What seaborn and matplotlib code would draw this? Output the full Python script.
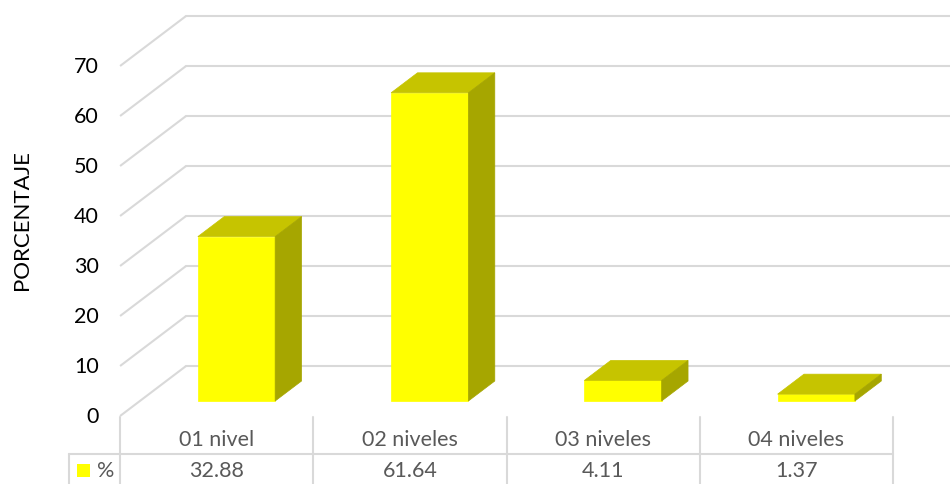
import matplotlib
matplotlib.use("Agg")
import matplotlib.pyplot as plt
import seaborn as sns
import pandas as pd
from matplotlib.patches import Polygon

categories = ["01 nivel", "02 niveles", "03 niveles", "04 niveles"]
values = [32.88, 61.64, 4.11, 1.37]
y_ticks = [0, 10, 20, 30, 40, 50, 60, 70]
series_name = "%"
y_label = "PORCENTAJE"

sns.set_theme(style="white")
plt.rcParams["font.family"] = ["Lato", "DejaVu Sans"]

FRONT = "#FFFF00"
TOP = "#C6C400"
SIDE = "#A6A600"
GRID = "#D9D9D9"
TXT = "#595959"

fig = plt.figure(figsize=(9.5, 4.85), dpi=100)
ax = fig.add_axes([0, 0, 1, 1])

df = pd.DataFrame({"cat": categories, "val": values})
sns.barplot(data=df, x="cat", y="val", order=categories, color=FRONT,
            width=0.4, saturation=1, ax=ax, zorder=3, edgecolor=FRONT, linewidth=0.5)

# geometry (bar-front plane coordinates)
PX = 193.25  # pixels per category
x0_pix = 236.5
ax.set_xlim((0 - x0_pix) / PX, (950 - x0_pix) / PX)
ax.set_ylim(-(485 - 402) / 5.0, 402 / 5.0)

dep_x = 66 / PX     # full wall depth in category units
dep_y = 10.0        # full wall depth in value units
fx, fy = -0.3 * dep_x, -0.3 * dep_y   # wall front relative to bar front
left = -0.5 + fx                        # front-left column edge
bx, by = 0.4 * dep_x, 0.4 * dep_y     # bar depth

# gridlines: diagonal + back wall
for v in y_ticks:
    ax.plot([left, left + dep_x], [v + fy, v + fy + dep_y], color=GRID, lw=1.5, zorder=1,
            solid_capstyle="butt")
    ax.plot([left + dep_x, 10], [v + fy + dep_y, v + fy + dep_y], color=GRID, lw=1.5, zorder=1)
    ax.text(left - 0.11, v + fy, str(v), ha="right", va="center", fontsize=15.5, color="#000000")

# 3D sides & tops
for i, v in enumerate(values):
    l, r = i - 0.2, i + 0.2
    ax.add_patch(Polygon([(l, v), (r, v), (r + bx, v + by), (l + bx, v + by)],
                         closed=True, facecolor=TOP, edgecolor=TOP, lw=0.5, zorder=4))
    ax.add_patch(Polygon([(r, 0), (r, v), (r + bx, v + by), (r + bx, by)],
                         closed=True, facecolor=SIDE, edgecolor=SIDE, lw=0.5, zorder=4))

# data table
y_top = (417 - 402) / -5.0 - 0.2
y_mid = -(455 - 402) / 5.0
y_bot = -20
for k in range(len(categories) + 1):
    xx = left + k
    ax.plot([xx, xx], [y_top, y_bot], color=GRID, lw=1.5, zorder=1)
leg_left = (69 - x0_pix) / PX
ax.plot([leg_left, left + len(categories)], [y_mid, y_mid], color=GRID, lw=1.5, zorder=1)
ax.plot([leg_left, leg_left], [y_mid, y_bot], color=GRID, lw=1.5, zorder=1)

for k, (c, v) in enumerate(zip(categories, values)):
    cx = left + k + 0.5
    ax.text(cx, -(440 - 402) / 5.0, c, ha="center", va="center", fontsize=15.5, color=TXT)
    ax.text(cx, -(471 - 402) / 5.0, f"{v:.2f}", ha="center", va="center", fontsize=15.5, color=TXT)

sq_l = (77 - x0_pix) / PX
sq_r = (90 - x0_pix) / PX
ax.add_patch(Polygon([(sq_l, -(478 - 402) / 5.0), (sq_r, -(478 - 402) / 5.0),
                      (sq_r, -(465 - 402) / 5.0), (sq_l, -(465 - 402) / 5.0)],
                     closed=True, facecolor=FRONT, edgecolor="none", zorder=3))
ax.text((97 - x0_pix) / PX, -(471 - 402) / 5.0, series_name, ha="left", va="center",
        fontsize=15.5, color=TXT)

# y label
ax.text((22 - x0_pix) / PX, (402 - 220) / 5.0, y_label, rotation=90, ha="center", va="center",
        fontsize=16, color="#000000")

ax.set_xlabel("")
ax.set_ylabel("")
ax.set_xticks([])
ax.set_yticks([])
for s in ax.spines.values():
    s.set_visible(False)

fig.savefig("out.png", dpi=100)
